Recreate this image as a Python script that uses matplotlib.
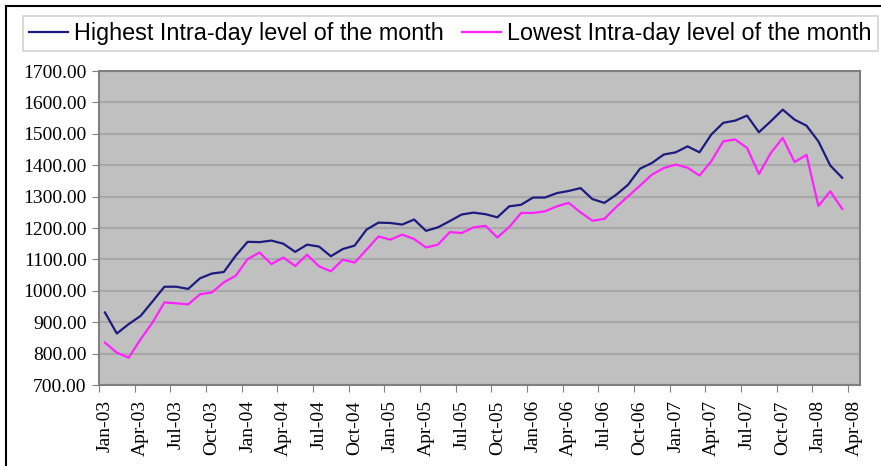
import matplotlib
matplotlib.use("Agg")
from matplotlib import pyplot as plt
from matplotlib.lines import Line2D

# monthly data, Jan-03 .. Mar-08
highs = [931, 864, 894, 920, 966, 1013, 1013, 1006, 1040, 1055, 1060, 1112,
         1156, 1155, 1160, 1150, 1124, 1147, 1141, 1110, 1133, 1144, 1195, 1217,
         1216, 1211, 1227, 1191, 1202, 1222, 1243, 1249, 1244, 1234, 1269, 1274,
         1297, 1297, 1311, 1318, 1327, 1292, 1280, 1306, 1338, 1389, 1407, 1434,
         1441, 1460, 1441, 1498, 1535, 1542, 1558, 1505, 1540, 1577, 1545, 1526,
         1476, 1399, 1360]
lows = [835, 803, 787, 846, 899, 963, 960, 957, 989, 995, 1027, 1048,
        1101, 1122, 1085, 1106, 1079, 1115, 1078, 1062, 1099, 1090, 1131, 1173,
        1163, 1179, 1165, 1138, 1147, 1187, 1184, 1202, 1207, 1170, 1203, 1248,
        1248, 1253, 1269, 1280, 1250, 1223, 1229, 1267, 1301, 1335, 1370, 1391,
        1402, 1392, 1367, 1413, 1476, 1482, 1455, 1372, 1439, 1487, 1410, 1433,
        1270, 1317, 1261]
tick_labels = ["Jan-03", "Apr-03", "Jul-03", "Oct-03", "Jan-04", "Apr-04", "Jul-04",
               "Oct-04", "Jan-05", "Apr-05", "Jul-05", "Oct-05", "Jan-06", "Apr-06",
               "Jul-06", "Oct-06", "Jan-07", "Apr-07", "Jul-07", "Oct-07", "Jan-08",
               "Apr-08"]
yticks = [700, 800, 900, 1000, 1100, 1200, 1300, 1400, 1500, 1600, 1700]

months = [i + 0.5 for i in range(len(highs))]

fig = plt.figure(figsize=(8.81, 4.66), dpi=100)
ax = fig.add_axes([99 / 881, 1 - 385 / 466, (860 - 99) / 881, (385 - 71) / 466])
ax.set_facecolor("#c0c0c0")

l1, = ax.plot(months, highs, color="#1c1c80", lw=1.6, label="Highest Intra-day level of the month")
l2, = ax.plot(months, lows, color="#ff22ff", lw=1.6, label="Lowest Intra-day level of the month")

ax.set_xlim(0, 64)
ax.set_ylim(700, 1700)
ax.set_yticks(yticks)
ax.set_yticklabels(["%.2f" % v for v in yticks], fontfamily="Liberation Serif", fontsize=14)
ax.yaxis.grid(True, color="#a8a8a8", lw=1.5)
ax.set_axisbelow(True)

ax.set_xticks(range(0, 64, 3))
ax.set_xticklabels([])
ax.set_xticks([i * 3 + 0.5 for i in range(len(tick_labels))], minor=True)
ax.set_xticklabels(tick_labels, minor=True, rotation=90, fontfamily="Liberation Serif", fontsize=14)
ax.tick_params(axis="x", which="major", length=5, color="#808080")
ax.tick_params(axis="x", which="minor", length=0, pad=11)
ax.tick_params(axis="y", length=5, color="#808080", pad=4)
for s in ax.spines.values():
    s.set_color("#808080")
    s.set_linewidth(1.5)

leg = fig.legend(handles=[l1, l2], loc="upper center", bbox_to_anchor=(0.511, 0.99),
                 ncol=2, frameon=True, fancybox=False, handlelength=1.7,
                 handletextpad=0.26, columnspacing=0.75, borderpad=0.25,
                 prop={"family": "Liberation Sans", "size": 16.8})
leg.get_frame().set_edgecolor("#c8c8c8")
leg.get_frame().set_linewidth(1.2)

fig.add_artist(Line2D([6 / 881, 6 / 881], [0, 1 - 6 / 466], color="black", lw=1.5))
fig.add_artist(Line2D([6 / 881, 1], [1 - 6 / 466, 1 - 6 / 466], color="black", lw=1.5))

fig.savefig("out.png", dpi=100)
